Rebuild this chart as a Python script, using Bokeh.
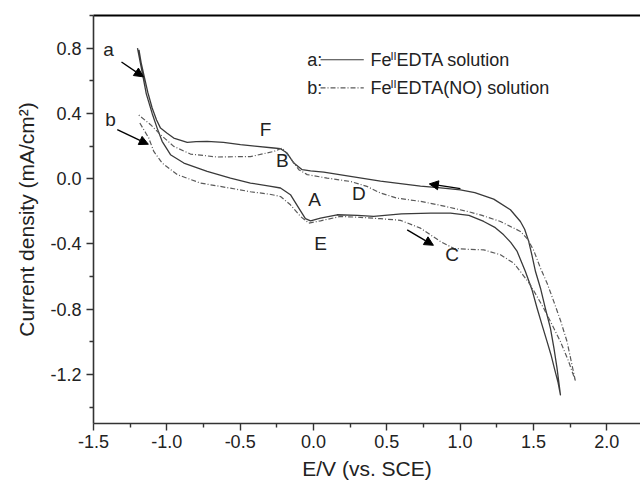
from bokeh.plotting import figure
from bokeh.models import (LinearAxis, FixedTicker, PrintfTickFormatter, Range1d,
                          Arrow, NormalHead, Label, ColumnDataSource)
from bokeh.core.properties import value
from bokeh.embed import file_html
from bokeh.resources import INLINE

FONT = "Liberation Sans"

# ---------------- data ----------------
# curve a: Fe(II)EDTA solution, forward sweep (left -> right, lower branch)
a_fwd_x = [-1.20, -1.17, -1.14, -1.10, -1.066, -1.032, -0.975, -0.884, -0.725, -0.566,
           -0.43, -0.30, -0.225, -0.157, -0.10, -0.055, -0.02, 0.048, 0.161, 0.30,
           0.411, 0.60, 0.80, 0.934, 1.06, 1.161, 1.24, 1.297, 1.345, 1.389,
           1.445, 1.49, 1.525, 1.56, 1.593, 1.62, 1.645, 1.668, 1.684]
a_fwd_y = [0.80, 0.66, 0.52, 0.40, 0.31, 0.229, 0.147, 0.096, 0.045, 0.004,
           -0.027, -0.045, -0.057, -0.098, -0.18, -0.245, -0.258, -0.242, -0.221, -0.225,
           -0.231, -0.215, -0.211, -0.211, -0.225, -0.262, -0.30, -0.344, -0.39, -0.446,
           -0.569, -0.68, -0.794, -0.90, -0.998, -1.08, -1.17, -1.25, -1.324]
# curve a: reverse sweep (right -> left, upper branch)
a_rev_x = [1.684, 1.661, 1.64, 1.616, 1.58, 1.548, 1.514, 1.49, 1.468, 1.44,
           1.411, 1.343, 1.229, 1.10, 1.002, 0.85, 0.73, 0.593, 0.457, 0.252,
           0.07, -0.02, -0.077, -0.134, -0.18, -0.225, -0.271, -0.40, -0.498, -0.614,
           -0.725, -0.80, -0.861, -0.953, -1.00, -1.043, -1.07, -1.10, -1.13, -1.157,
           -1.175, -1.19]
a_rev_y = [-1.324, -1.162, -1.04, -0.917, -0.79, -0.671, -0.569, -0.47, -0.385, -0.31,
           -0.262, -0.19, -0.125, -0.085, -0.068, -0.055, -0.045, -0.03, -0.015, 0.014,
           0.04, 0.048, 0.055, 0.096, 0.157, 0.184, 0.188, 0.20, 0.209, 0.223,
           0.229, 0.227, 0.223, 0.249, 0.28, 0.31, 0.36, 0.433, 0.53, 0.638,
           0.71, 0.79]

# curve b: Fe(II)EDTA(NO) solution, forward sweep (lower branch)
b_fwd_x = [-1.184, -1.123, -1.089, -1.032, -0.929, -0.77, -0.566, -0.43, -0.30, -0.225,
           -0.157, -0.089, -0.032, 0.048, 0.184, 0.32, 0.457, 0.593, 0.73, 0.866,
           0.957, 1.06, 1.161, 1.275, 1.366, 1.411, 1.479, 1.57, 1.63, 1.684,
           1.74, 1.786]
b_fwd_y = [0.341, 0.249, 0.167, 0.096, 0.025, -0.027, -0.058, -0.08, -0.095, -0.109,
           -0.16, -0.231, -0.272, -0.258, -0.231, -0.237, -0.245, -0.255, -0.303, -0.385,
           -0.427, -0.433, -0.436, -0.466, -0.518, -0.569, -0.65, -0.794, -0.90, -0.998,
           -1.12, -1.239]
# curve b: reverse sweep (upper branch)
b_rev_x = [1.786, 1.729, 1.685, 1.639, 1.593, 1.548, 1.502, 1.46, 1.411, 1.275,
           1.15, 1.048, 0.85, 0.73, 0.57, 0.457, 0.364, 0.252, 0.093, -0.043,
           -0.10, -0.157, -0.213, -0.271, -0.43, -0.498, -0.657, -0.839, -0.953, -1.043,
           -1.111, -1.195]
b_rev_y = [-1.239, -0.998, -0.87, -0.753, -0.64, -0.548, -0.44, -0.37, -0.323, -0.262,
           -0.225, -0.20, -0.16, -0.139, -0.119, -0.088, -0.047, -0.017, 0.004, 0.025,
           0.055, 0.126, 0.188, 0.167, 0.135, 0.135, 0.133, 0.151, 0.198, 0.27,
           0.331, 0.393]

x_ticks = [-1.5, -1.0, -0.5, 0.0, 0.5, 1.0, 1.5, 2.0]
x_minor = [-1.25, -0.75, -0.25, 0.25, 0.75, 1.25, 1.75, 2.25]
y_ticks = [-1.2, -0.8, -0.4, 0.0, 0.4, 0.8]
y_minor = [-1.4, -1.0, -0.6, -0.2, 0.2, 0.6, 1.0]

peak_labels = ["a", "b", "F", "B", "A", "E", "D", "C"]
peak_x = [-1.398, -1.384, -0.327, -0.213, 0.007, 0.048, 0.309, 0.946]
peak_y = [0.792, 0.363, 0.302, 0.110, -0.129, -0.395, -0.088, -0.466]

legend_names = ["a:", "b:"]
legend_rows_y = [0.729, 0.557]

# ---------------- figure ----------------
p = figure(width=640, height=482, output_backend="svg", toolbar_location=None,
           x_range=Range1d(-1.5, 2.23), y_range=Range1d(-1.5, 1.0),
           min_border_left=93, min_border_right=0, min_border_top=15,
           min_border_bottom=59, x_axis_location=None, y_axis_location=None)
p.outline_line_color = None
p.grid.visible = False
p.background_fill_color = "white"
p.border_fill_color = "white"

def style_axis(ax):
    ax.axis_line_color = "#333333"
    ax.axis_line_width = 1.6
    ax.major_tick_line_color = "#333333"
    ax.minor_tick_line_color = "#333333"
    ax.major_tick_line_width = 1.4
    ax.minor_tick_line_width = 1.4
    ax.major_tick_in = 0
    ax.major_tick_out = 7
    ax.minor_tick_in = 0
    ax.minor_tick_out = 4
    ax.major_label_text_font = FONT
    ax.major_label_text_font_size = "18px"
    ax.major_label_text_color = "#222222"
    ax.axis_label_text_font = FONT
    ax.axis_label_text_font_size = "21px"
    ax.axis_label_text_font_style = "normal"
    ax.axis_label_text_color = "#222222"
    ax.formatter = PrintfTickFormatter(format="%.1f")

xaxis = LinearAxis(ticker=FixedTicker(ticks=x_ticks, minor_ticks=x_minor),
                   axis_label="E/V (vs. SCE)")
style_axis(xaxis)
xaxis.major_label_standoff = 4
xaxis.axis_label_standoff = 6
p.add_layout(xaxis, "below")

yaxis = LinearAxis(ticker=FixedTicker(ticks=y_ticks, minor_ticks=y_minor),
                   axis_label="Current density (mA/cm²)")
style_axis(yaxis)
yaxis.major_label_standoff = 5
yaxis.axis_label_standoff = 9
p.add_layout(yaxis, "left")

top = LinearAxis(ticker=FixedTicker(ticks=[]), major_label_text_font_size="0px",
                 major_tick_line_color=None, minor_tick_line_color=None,
                 axis_line_color="black", axis_line_width=2)
p.add_layout(top, "above")

solid_color = "#3a3a3a"
dash_color = "#5a5a5a"
dash_pat = "5 2 1 2"

p.line(a_fwd_x + a_rev_x, a_fwd_y + a_rev_y, line_color=solid_color, line_width=1.3,
       line_join="round")
p.line(b_fwd_x + b_rev_x, b_fwd_y + b_rev_y, line_color=dash_color, line_width=1.2,
       line_dash=dash_pat, line_join="round")

src = ColumnDataSource(dict(x=peak_x, y=peak_y, t=peak_labels))
p.text(x="x", y="y", text="t", source=src, text_font=value(FONT),
       text_font_size="19px", text_align="center", text_baseline="middle",
       text_color="#222222")

def arrow(x0, y0, x1, y1):
    p.add_layout(Arrow(end=NormalHead(size=9, fill_color="black", line_color="black"),
                       x_start=x0, y_start=y0, x_end=x1, y_end=y1,
                       line_color="black", line_width=1.4))

arrow(-1.309, 0.715, -1.160, 0.624)
arrow(-1.338, 0.300, -1.126, 0.211)
arrow(0.639, -0.313, 0.818, -0.408)
arrow(1.002, -0.061, 0.790, -0.032)

# legend (drawn manually so that the superscript can be kept)
px_x = (2.23 + 1.5) / 547.0
px_y = 2.5 / 408.0
for name, ry, dash in zip(legend_names, legend_rows_y, ["solid", dash_pat]):
    p.add_layout(Label(x=-0.043, y=ry, text=name, text_font=FONT, text_font_size="18px",
                       text_baseline="middle", text_color="#222222"))
    p.add_layout(Arrow(end=None, x_start=0.048, y_start=ry, x_end=0.343, y_end=ry,
                       line_color=solid_color if dash == "solid" else dash_color,
                       line_width=1.2, line_dash=dash))
for ry, tail in zip(legend_rows_y, ["EDTA solution", "EDTA(NO) solution"]):
    p.add_layout(Label(x=0.389, y=ry, text="Fe", text_font=FONT, text_font_size="18px",
                       text_baseline="middle", text_color="#222222"))
    p.add_layout(Label(x=0.389 + 20 * px_x, y=ry + 4 * px_y, text="II", text_font=FONT,
                       text_font_size="11px", text_baseline="middle", text_color="#222222"))
    p.add_layout(Label(x=0.389 + 26 * px_x, y=ry, text=tail, text_font=FONT,
                       text_font_size="18px", text_baseline="middle", text_color="#222222"))

open("out.html", "w").write(file_html(p, INLINE))
